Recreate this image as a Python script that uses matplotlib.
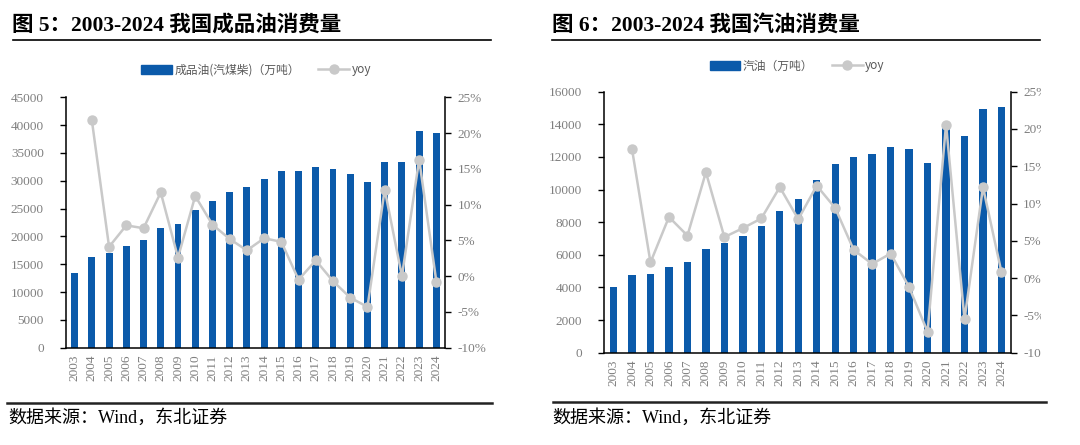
import matplotlib
matplotlib.use('Agg')
from matplotlib import pyplot as plt
from matplotlib.lines import Line2D
from matplotlib.patches import Patch
from matplotlib.transforms import Bbox

# Data
years = [str(y) for y in range(2003, 2025)]

oil_total = [13400, 16300, 17100, 18200, 19400, 21600, 22200, 24700, 26400,
             27900, 28800, 30300, 31800, 31700, 32400, 32200, 31200, 29800,
             33400, 33400, 38900, 38600]
oil_total_yoy = [21.8, 4.1, 7.1, 6.7, 11.7, 2.6, 11.2, 7.2, 5.2, 3.6, 5.3,
                 4.8, -0.5, 2.2, -0.7, -3.0, -4.3, 12.1, 0.0, 16.3, -0.8]

gasoline = [4050, 4760, 4840, 5250, 5560, 6350, 6720, 7170, 7760, 8660,
            9400, 10560, 11540, 11970, 12200, 12620, 12500, 11620, 14100,
            13300, 14910, 15040]
gasoline_yoy = [17.3, 2.1, 8.2, 5.7, 14.2, 5.5, 6.7, 8.0, 12.2, 7.9, 12.4,
                9.4, 3.8, 1.9, 3.3, -1.2, -7.2, 20.6, -5.5, 12.2, 0.8]

BAR = '#0B5AAA'
LINE = '#C9C9C9'
TICK = '#7F7F7F'
SERIF = ['Liberation Serif', 'Noto Sans CJK SC']
CJK = ['Noto Sans CJK SC', 'Liberation Serif']

W, H = 1080, 445
fig = plt.figure(figsize=(W / 100, H / 100), dpi=100)


def px_axes(x0, y0, x1, y1):
    return fig.add_axes([x0 / W, 1 - y1 / H, (x1 - x0) / W, (y1 - y0) / H])


def draw_panel(ax, bars, yoy, ymax, ystep, bar_label, clip_x=None):
    xs = list(range(len(years)))
    ax.bar(xs, bars, width=0.4, color=BAR, zorder=2)
    ax.set_xlim(-0.5, len(years) - 0.5)
    ax.set_ylim(0, ymax)
    ax.set_yticks(range(0, ymax + 1, ystep))
    ax.set_xticks(xs)
    ax.set_xticklabels(years, rotation=90, family=SERIF, fontsize=9.5, color=TICK)
    for lab in ax.get_yticklabels():
        lab.set_family(SERIF)
        lab.set_fontsize(9.5)
        lab.set_color(TICK)
    ax.tick_params(axis='x', length=0, pad=5)
    ax.tick_params(axis='y', length=4, width=1, color='black', pad=12)
    ax.spines['top'].set_visible(False)
    ax.spines['right'].set_visible(False)
    for s in ('left', 'bottom'):
        ax.spines[s].set_linewidth(1.1)

    ax2 = ax.twinx()
    ax2.plot(xs[1:], yoy, color=LINE, lw=1.8, marker='o', ms=6.5,
             markerfacecolor=LINE, markeredgecolor=LINE, zorder=3)
    ax2.set_ylim(-10, 25)
    ax2.set_yticks(range(-10, 26, 5))
    ax2.set_yticklabels([f'{v}%' for v in range(-10, 26, 5)],
                        family=SERIF, fontsize=9.5, color=TICK)
    ax2.tick_params(axis='y', length=4, width=1, color='black', pad=5)
    ax2.spines['top'].set_visible(False)
    ax2.spines['left'].set_visible(False)
    ax2.spines['bottom'].set_visible(False)
    ax2.spines['right'].set_linewidth(1.1)
    if clip_x is not None:
        box = Bbox([[0, 0], [clip_x, H]])
        for lab in ax2.get_yticklabels():
            lab.set_clip_box(box)
            lab.set_clip_on(True)

    handles = [Patch(color=BAR), Line2D([], [], color=LINE, lw=1.8, marker='o',
                                        ms=6.5, markerfacecolor=LINE)]
    return handles, [bar_label, 'yoy']


# Left panel
axL = px_axes(66, 97.3, 445, 347.7)
h, l = draw_panel(axL, oil_total, oil_total_yoy, 45000, 5000,
                  '成品油(汽煤柴)（万吨）')
fig.legend(h, l, loc='center', bbox_to_anchor=(256 / W, 1 - 70 / H), ncol=2,
           frameon=False, prop={'family': CJK, 'size': 8.5}, labelcolor='#595959',
           handlelength=2.6, handleheight=0.7, columnspacing=1.6, handletextpad=0.2)

# Right panel
axR = px_axes(604.3, 91.7, 1010.7, 352.7)
h, l = draw_panel(axR, gasoline, gasoline_yoy, 16000, 2000, '汽油（万吨）',
                  clip_x=1041)
fig.legend(h, l, loc='center', bbox_to_anchor=(797 / W, 1 - 66 / H), ncol=2,
           frameon=False, prop={'family': CJK, 'size': 8.5}, labelcolor='#595959',
           handlelength=2.6, handleheight=0.7, columnspacing=1.6, handletextpad=0.2)

# Titles, rules and source lines
fig.text(12 / W, 1 - 25 / H, '图 5：2003-2024 我国成品油消费量', family=SERIF,
         fontsize=15.5, fontweight='bold', va='center', ha='left')
fig.text(552 / W, 1 - 25 / H, '图 6：2003-2024 我国汽油消费量', family=SERIF,
         fontsize=15.5, fontweight='bold', va='center', ha='left')
fig.add_artist(Line2D([13 / W, 491 / W], [1 - 40 / H] * 2, color='black', lw=1.2))
fig.add_artist(Line2D([552 / W, 1040 / W], [1 - 40 / H] * 2, color='black', lw=1.2))
fig.add_artist(Line2D([7 / W, 492 / W], [1 - 403 / H] * 2, color='#222222', lw=1.8))
fig.add_artist(Line2D([553 / W, 1046 / W], [1 - 402 / H] * 2, color='#222222', lw=1.8))
fig.text(8 / W, 1 - 418 / H, '数据来源：Wind，东北证券', family=SERIF,
         fontsize=13, va='center', ha='left')
fig.text(552 / W, 1 - 418 / H, '数据来源：Wind，东北证券', family=SERIF,
         fontsize=13, va='center', ha='left')

fig.savefig('out.png', dpi=100)
